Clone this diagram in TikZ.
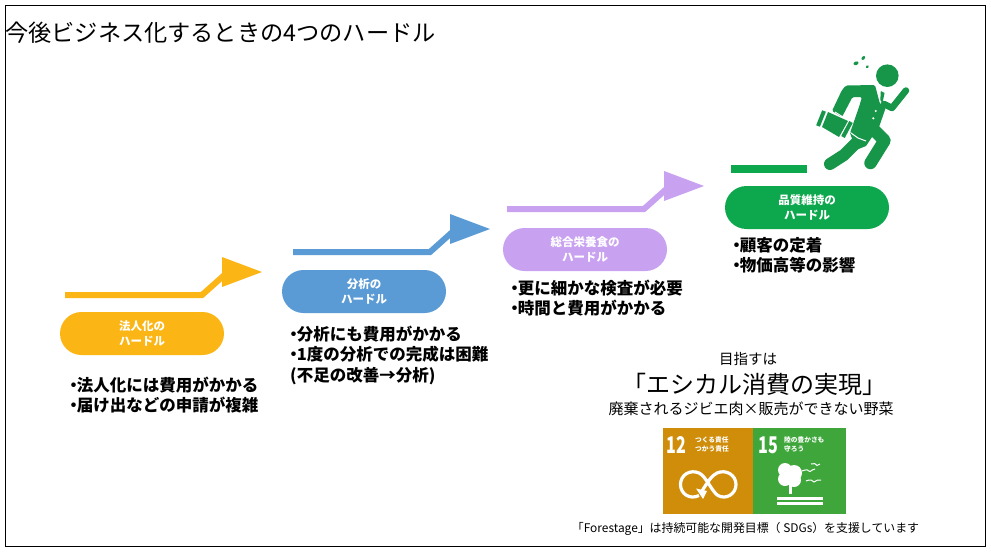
\documentclass[tikz,border=0pt]{standalone}
\usepackage{fontspec}
\usepackage{graphicx}
\setmainfont{Noto Sans CJK JP}
\definecolor{cy}{HTML}{FBB616}
\definecolor{cb}{HTML}{5B9BD5}
\definecolor{cp}{HTML}{C8A2F0}
\definecolor{cg}{HTML}{0DA84D}
\definecolor{man}{HTML}{17964A}
\definecolor{sdga}{HTML}{CF8D0A}
\definecolor{sdgb}{HTML}{3EA63A}
\newcommand{\bl}{\hspace*{-0.3em}・\hspace{-0.3em}}
\usetikzlibrary{shapes.misc}
\tikzset{
  pill/.style={rounded rectangle,minimum width=164pt,minimum height=43pt,inner sep=0pt,text=white,align=center,font=\fontsize{11.5}{15}\selectfont\bfseries},
  lst/.style={anchor=north west,align=left,inner sep=0pt,font=\fontsize{16.5}{20.3}\selectfont\bfseries},
  ctr/.style={inner sep=0pt,align=center},
  arrowline/.style={line width=6pt,line join=miter},
  sdgtxt/.style={text=white,inner sep=0pt,align=left,anchor=west,font=\fontsize{6.7}{9.5}\selectfont\bfseries},
  sdgnum/.style={text=white,inner sep=0pt,anchor=center,font=\fontsize{23}{23}\selectfont\bfseries},
  limb/.style={man,line cap=round,line join=round},
}
\begin{document}
\begin{tikzpicture}[x=1pt,y=-1pt]
\useasboundingbox (0,0) rectangle (991,554);
\fill[white] (0,0) rectangle (991,554);
\draw[line width=1pt,black] (5,5.5) rectangle (985,546);

\node[anchor=west,inner sep=0pt,font=\fontsize{23.2}{26}\selectfont] (title) at (5,33) {今後ビジネス化するときの4つのハードル};

% arrows
\foreach \dx/\dy/\c in {0/0/cy,228/-43/cb,442/-86/cp}{
  \draw[\c,arrowline] (65+\dx,295+\dy) -- (202+\dx,295+\dy) -- (230+\dx,270+\dy);
  \fill[\c] (222+\dx,257+\dy) -- (262+\dx,272+\dy) -- (222+\dx,287+\dy) -- cycle;
}
\fill[cg] (731,165) rectangle (807,173);

% pills
\node[pill,fill=cy] (p1) at (142,333.5) {法人化の\\ハードル};
\node[pill,fill=cb] (p2) at (364,291.5) {分析の\\ハードル};
\node[pill,fill=cp] (p3) at (585,249.5) {総合栄養食の\\ハードル};
\node[pill,fill=cg] (p4) at (807,207.5) {品質維持の\\ハードル};

% lists
\node[lst] (l1) at (70,377) {\bl 法人化には費用がかかる\\\bl 届け出などの申請が複雑};
\node[lst] (l2) at (290,326) {\bl 分析にも費用がかかる\\\bl 1度の分析での完成は困難\\(不足の改善→分析)};
\node[lst] (l3) at (511,280) {\bl 更に細かな検査が必要\\\bl 時間と費用がかかる};
\node[lst] (l4) at (733,237) {\bl 顧客の定着\\\bl 物価高等の影響};

% goal
\node[ctr,font=\fontsize{14.5}{18}\selectfont] (g1) at (748,359) {目指すは};
\node[ctr,font=\fontsize{24}{28}\selectfont] (g2) at (754,384) {「エシカル消費の実現」};
\node[ctr,font=\fontsize{15}{18}\selectfont] (g3) at (751,409) {廃棄されるジビエ肉×販売ができない野菜};
\node[ctr,font=\fontsize{11.9}{14}\selectfont] (g4) at (745.5,529) {「Forestage」は持続可能な開発目標（ SDGs）を支援しています};

% SDG tiles
\fill[sdga] (663,428) rectangle (753,514);
\fill[sdgb] (753,428) rectangle (846,514);
\node[sdgnum] (n12) at (676.5,445) {\scalebox{.7}[1]{12}};
\node[sdgnum] (n15) at (768,445.5) {\scalebox{.7}[1]{15}};
\node[sdgtxt] (t12) at (695,444.5) {つくる責任\\つかう責任};
\node[sdgtxt] (t15) at (784,444.5) {陸の豊かさも\\守ろう};
% infinity
\draw[white,line width=3.2pt]
  (699,495.5) .. controls (690,500) and (680.5,494) .. (680.5,484.5)
  .. controls (680.5,475) and (690,469) .. (699,473)
  .. controls (706,476) and (712,492) .. (718,495.5)
  .. controls (726,500) and (736,494) .. (736,484.5)
  .. controls (736,475) and (726,469) .. (717,473)
  .. controls (712,475) and (707,483) .. (702,491);
\fill[white] (696,488.5) -- (707,491) -- (703,499) -- cycle;
% tree and land
\fill[white] (785,470) circle (7);
\fill[white] (794,473) circle (8);
\fill[white] (785,479) circle (7);
\fill[white] (794,480) circle (7);
\fill[white] (789,485) rectangle (792,494);
\fill[white] (777,496.5) rectangle (823,499.7);
\fill[white] (777,502) rectangle (823,505.3);
\draw[white,line width=1pt] (802,471) .. controls (806,469) and (809,470) .. (810,471.5) .. controls (812,469.5) and (814,469.5) .. (815,469);
\draw[white,line width=1pt] (811,464) .. controls (814,463) and (816,463.5) .. (817,465.5) .. controls (818,464) and (819,464) .. (820,464);
\draw[white,line width=1pt] (806,481) .. controls (810,479) and (813,480) .. (814,482) .. controls (816,480) and (819,479.5) .. (821,480);

% running man
\fill[man] (887.3,75.7) circle (11.3);
\fill[man,rotate around={20:(856,63.3)}] (856,63.3) ellipse (2.6 and 1.8);
\fill[man,rotate around={50:(863.3,58)}] (863.3,58) ellipse (2.2 and 1.5);
\fill[man,rotate around={40:(867.3,66.7)}] (867.3,66.7) ellipse (1.8 and 1.4);
% legs
\draw[limb,line width=12.5pt] (871,127) -- (884.5,140.5) -- (870.5,163);
\draw[limb,line width=12pt] (857,142) -- (844,155) -- (830,164);
\fill[man] (850,133) -- (878,128) -- (866,146) -- (856,150) -- cycle;
% torso and rear arm
\fill[man,rounded corners=1.5pt] (846,85.5) -- (875,85) -- (880,104) -- (886,107) -- (878,130) -- (866,140) -- (850,133) -- (859,107) -- (862,97) -- (852.5,97) -- (842,117) -- (832,111) -- (842,90) -- cycle;
% near arm
\draw[limb,line width=6.5pt] (884,104) -- (892,108) -- (906,90.5);
% briefcase
\fill[man] (828,112) -- (848,121) -- (839,137) -- (822,127) -- cycle;
\draw[man,line width=4pt] (824,111) -- (818,126);
\draw[man,line width=4pt] (851,122) -- (843,137);
\draw[white,line width=.9pt] (835,112) -- (843,117);
% shirt details
\fill[man] (880.8,91) -- (884.5,93) -- (882.5,103) -- (880.3,100) -- cycle;
\fill[white] (875.7,111) circle (1.2);
\fill[white] (873.3,118.3) circle (1.2);
\draw[white,line width=1pt] (851,133) -- (858,138) -- (866,141);
\end{tikzpicture}
\end{document}
